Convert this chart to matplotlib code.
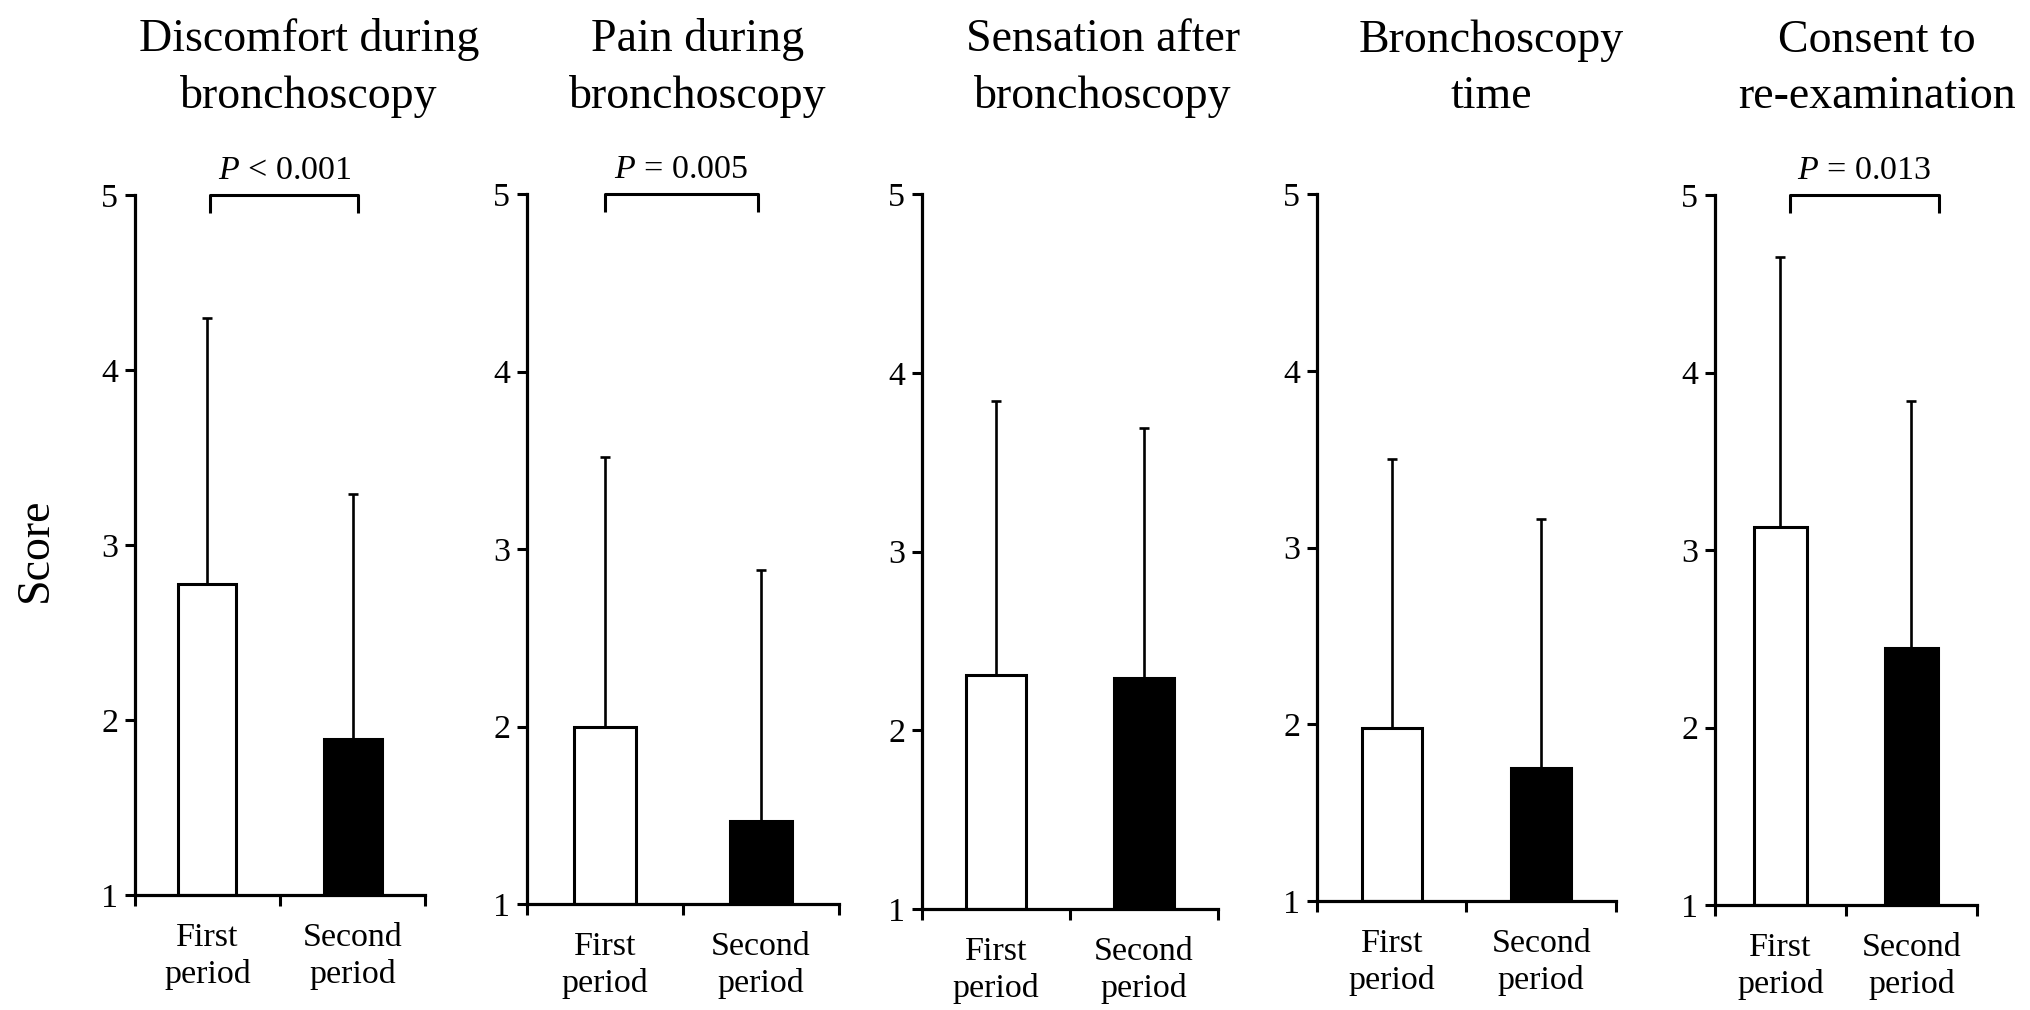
import numpy as np
import matplotlib
matplotlib.use("Agg")
import matplotlib.pyplot as plt

plt.rcParams['font.family'] = ['Liberation Serif', 'DejaVu Serif']
plt.rcParams['mathtext.fontset'] = 'custom'
plt.rcParams['mathtext.it'] = 'Liberation Serif:italic'
plt.rcParams['mathtext.rm'] = 'Liberation Serif'

# data
titles = ['Discomfort during\nbronchoscopy', 'Pain during\nbronchoscopy',
          'Sensation after\nbronchoscopy', 'Bronchoscopy\ntime',
          'Consent to\nre-examination']
groups = ['First\nperiod', 'Second\nperiod']
first_mean = [2.78, 2.00, 2.31, 1.98, 3.13]
first_upper = [4.30, 3.52, 3.84, 3.50, 4.65]
second_mean = [1.89, 1.47, 2.29, 1.75, 2.45]
second_upper = [3.29, 2.88, 3.69, 3.16, 3.84]
p_text = ['< 0.001', '= 0.005', None, None, '= 0.013']
yticks = [1, 2, 3, 4, 5]

W, H = 2031, 1010
fig = plt.figure(figsize=(W / 100, H / 100), dpi=100)

# axes boxes in pixels: left, right, top(y=5), bottom(y=1)
boxes = [(135, 425, 195, 895), (527, 839, 194, 904), (922, 1218, 194, 909),
         (1317, 1616, 194, 901), (1715, 1977, 195, 905)]
title_x = [309, 698, 1103, 1491, 1877]
bracket_x = [(0.52, 1.54), (0.5, 1.48), None, None, (0.57, 1.71)]

x = np.array([0.5, 1.5])
for i in range(5):
    l, r, t, b = boxes[i]
    ax = fig.add_axes([l / W, (H - b) / H, (r - l) / W, (b - t) / H])
    means = np.array([first_mean[i], second_mean[i]])
    upper = np.array([first_upper[i], second_upper[i]])
    ax.bar(x, means - 1, bottom=1, width=0.4, color=['white', 'black'],
           edgecolor='black', linewidth=2.2, zorder=2)
    ax.errorbar(x, means, yerr=[np.zeros(2), upper - means], fmt='none',
                ecolor='black', elinewidth=1.9, capsize=3.8, capthick=1.9, zorder=3)
    ax.set_xlim(0, 2)
    ax.set_ylim(1, 5)
    for s in ['top', 'right']:
        ax.spines[s].set_visible(False)
    for s in ['left', 'bottom']:
        ax.spines[s].set_linewidth(2.3)
    ax.set_yticks(yticks)
    ax.set_xticks([0, 1, 2])
    ax.set_xticklabels([])
    ax.set_xticks(x, groups, minor=True)
    ax.tick_params(axis='y', length=7, width=2.2, labelsize=24.5, pad=5)
    ax.tick_params(axis='x', which='major', length=8, width=2.2)
    ax.tick_params(axis='x', which='minor', length=0, labelsize=24.5, pad=20)
    for lab in ax.get_xticklabels(minor=True):
        lab.set_linespacing(1.25)

    if p_text[i] is not None:
        x0, x1 = bracket_x[i]
        ax.plot([x0, x0, x1, x1], [4.9, 5, 5, 4.9], color='black', lw=2.2,
                clip_on=False, solid_capstyle='butt')
        ax.annotate(r'$P$ ' + p_text[i], xy=((x0 + x1) / 2, 5), xytext=(0, 11.5),
                    textcoords='offset points', ha='center', va='baseline',
                    fontsize=24.5, annotation_clip=False)

    fig.text(title_x[i] / W, 1 - 118 / H, titles[i], ha='center', va='bottom',
             fontsize=33, linespacing=1.43)

fig.text(36 / W, 1 - 550 / H, 'Score', rotation=90, ha='center', va='center',
         fontsize=33)

fig.savefig('out.png', dpi=100)
